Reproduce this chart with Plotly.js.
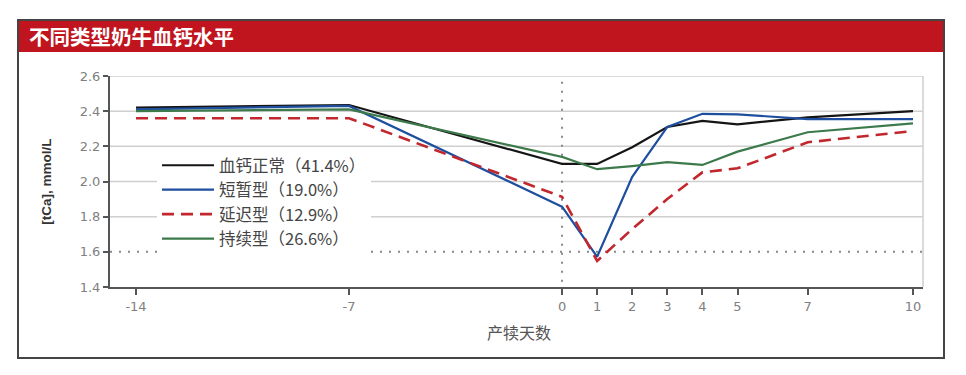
<!DOCTYPE html>
<html>
<head>
<meta charset="utf-8">
<script src="https://cdn.plot.ly/plotly-3.0.1.min.js"></script>
<style>html,body{margin:0;padding:0;background:#fff;}#chart{width:966px;height:375px;}</style>
</head>
<body>
<div id="chart"></div>
<script>
// ---- data ----
const days = [-14, -7, 0, 1, 2, 3, 4, 5, 7, 10];
const normalCa     = [2.42, 2.435, 2.10, 2.10, 2.195, 2.31, 2.345, 2.325, 2.365, 2.40];
const transientCa  = [2.41, 2.43, 1.857, 1.572, 2.027, 2.31, 2.385, 2.382, 2.355, 2.355];
const delayedCa    = [2.36, 2.36, 1.913, 1.548, 1.73, 1.90, 2.052, 2.075, 2.223, 2.287];
const persistentCa = [2.40, 2.41, 2.14, 2.07, 2.088, 2.11, 2.094, 2.17, 2.28, 2.33];
const seriesNames = ['血钙正常（41.4%）', '短暂型（19.0%）', '延迟型（12.9%）', '持续型（26.6%）'];
const leftTicks = [-14, -7, 0];
const leftTickText = ['-14', '-7', '0'];
const rightTicks = [1, 2, 3, 4, 5, 7, 10];
const rightTickText = ['1', '2', '3', '4', '5', '7', '10'];
const gridVals = [1.8, 2.0, 2.2, 2.4, 2.6];
const thresholdCa = 1.6;
const chartTitle = '不同类型奶牛血钙水平';
const yTitle = '[tCa], mmol/L';
const xTitle = '产犊天数';

// ---- layout geometry ----
const W = 966, H = 375;
const M = {l: 110, r: 43, t: 76, b: 88};
const PW = W - M.l - M.r, PH = H - M.t - M.b;
const px = x => (x - M.l) / PW;
const py = y => (H - M.b - y) / PH;
const split = 0.556;

const styles = [
  {color: '#151515', width: 2.2, dash: 'solid'},
  {color: '#1d4f9e', width: 2.2, dash: 'solid'},
  {color: '#c1272d', width: 2.6, dash: '12px,7px'},
  {color: '#3c7a4c', width: 2.2, dash: 'solid'}
];
const allSeries = [normalCa, transientCa, delayedCa, persistentCa];

const traces = [];
allSeries.forEach((vals, i) => {
  ['x', 'x2'].forEach((xa, k) => {
    traces.push({
      type: 'scatter', mode: 'lines',
      x: days, y: vals, xaxis: xa, yaxis: 'y',
      name: seriesNames[i], legendgroup: 'g' + i,
      showlegend: k === 0,
      line: {color: styles[i].color, width: styles[i].width, dash: styles[i].dash},
      hoverinfo: 'x+y+name'
    });
  });
});

const axisCommon = {
  showgrid: false, zeroline: false, showline: true, linecolor: '#555', linewidth: 2,
  ticks: 'outside', ticklen: 6, tickwidth: 2, tickcolor: '#555',
  tickfont: {family: 'DejaVu Sans, sans-serif', size: 13, color: '#808080'},
  fixedrange: true
};

const shapes = [];
// red title bar
shapes.push({type: 'rect', xref: 'paper', yref: 'paper', x0: px(18), x1: px(944), y0: py(52), y1: py(20),
  fillcolor: '#c0141e', line: {width: 0}, layer: 'below'});
// outer frame
shapes.push({type: 'rect', xref: 'paper', yref: 'paper', x0: px(18), x1: px(944), y0: py(358), y1: py(20),
  fillcolor: 'rgba(0,0,0,0)', line: {color: '#444', width: 2}, layer: 'below'});
// grid lines
gridVals.forEach(v => shapes.push({type: 'line', xref: 'paper', yref: 'y', x0: 0, x1: 1, y0: v, y1: v,
  line: {color: '#cfcfcf', width: 1.5}, layer: 'below'}));
// right frame of plot area
shapes.push({type: 'line', xref: 'paper', yref: 'y', x0: 1, x1: 1, y0: 1.4, y1: 2.6,
  line: {color: '#cfcfcf', width: 1.5}, layer: 'below'});
// threshold dotted line
shapes.push({type: 'line', xref: 'paper', yref: 'y', x0: 0, x1: 1, y0: thresholdCa, y1: thresholdCa,
  line: {color: '#888', width: 2, dash: '2px,7px'}, layer: 'below'});
// calving day dotted line
shapes.push({type: 'line', xref: 'paper', yref: 'y', x0: split, x1: split, y0: 1.43, y1: 2.6,
  line: {color: '#888', width: 2, dash: '2px,7px'}, layer: 'below'});

const layout = {
  width: W, height: H,
  margin: M,
  paper_bgcolor: '#fff', plot_bgcolor: 'rgba(0,0,0,0)',
  showlegend: true,
  legend: {
    x: px(157), y: py(148), xanchor: 'left', yanchor: 'top',
    bgcolor: '#fff', borderwidth: 0,
    font: {family: 'Noto Sans CJK SC, sans-serif', size: 16.5, color: '#444'},
    traceorder: 'grouped', tracegroupgap: 0, itemwidth: 52, entrywidth: 226
  },
  xaxis: Object.assign({}, axisCommon, {domain: [0, split], range: [-14.855, 0], anchor: 'y',
    tickmode: 'array', tickvals: leftTicks, ticktext: leftTickText}),
  xaxis2: Object.assign({}, axisCommon, {domain: [split, 1], range: [0, 10.285], anchor: 'y',
    tickmode: 'array', tickvals: rightTicks, ticktext: rightTickText}),
  yaxis: Object.assign({}, axisCommon, {range: [1.4, 2.6], tickmode: 'linear', tick0: 1.4, dtick: 0.2,
    tickformat: '.1f', ticklen: 5, anchor: 'x',
    title: {text: yTitle, standoff: 25, font: {family: 'Liberation Sans, Arial, sans-serif', size: 13.5, color: '#333', weight: 'bold'}}}),
  shapes: shapes,
  annotations: [
    {xref: 'paper', yref: 'paper', x: px(27), y: py(36), xanchor: 'left', yanchor: 'middle', showarrow: false,
      text: '<b>' + chartTitle + '</b>', font: {family: 'Noto Sans CJK SC, sans-serif', size: 20.5, color: '#fff'}},
    {xref: 'paper', yref: 'paper', x: px(519), y: py(332), xanchor: 'center', yanchor: 'middle', showarrow: false,
      text: xTitle, font: {family: 'Noto Sans CJK SC, sans-serif', size: 16, color: '#555'}}
  ]
};

Plotly.newPlot('chart', traces, layout, {displayModeBar: false, staticPlot: true});
</script>
</body>
</html>
